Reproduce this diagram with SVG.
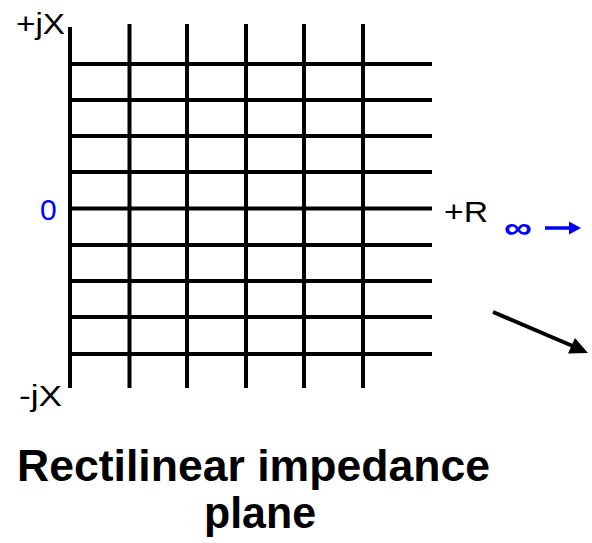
<svg xmlns="http://www.w3.org/2000/svg" width="592" height="543" viewBox="0 0 592 543">
<style>
.g{stroke:#000;stroke-width:4;fill:none}
.t{font-family:"Liberation Sans",Arial,sans-serif;font-size:30px;fill:#000}
.b{fill:#0000ff}
.h{font-family:"Liberation Sans",Arial,sans-serif;font-size:44px;font-weight:bold;fill:#000}
</style>
<rect width="592" height="543" fill="#fff"/>
<g id="grid">
<line class="g" x1="70" y1="27" x2="70" y2="388"/>
<line class="g" x1="129.5" y1="24" x2="129.5" y2="388"/>
<line class="g" x1="187" y1="24" x2="187" y2="388"/>
<line class="g" x1="246" y1="24" x2="246" y2="388"/>
<line class="g" x1="304" y1="24" x2="304" y2="388"/>
<line class="g" x1="363" y1="24" x2="363" y2="388"/>
<line class="g" x1="70" y1="64" x2="432" y2="64"/>
<line class="g" x1="70" y1="100" x2="432" y2="100"/>
<line class="g" x1="70" y1="136" x2="432" y2="136"/>
<line class="g" x1="70" y1="172" x2="432" y2="172"/>
<line class="g" x1="70" y1="208.5" x2="432" y2="208.5"/>
<line class="g" x1="70" y1="245" x2="432" y2="245"/>
<line class="g" x1="70" y1="281" x2="432" y2="281"/>
<line class="g" x1="70" y1="317" x2="432" y2="317"/>
<line class="g" x1="70" y1="354" x2="432" y2="354"/>
</g>
<g id="labels">
<text class="t" x="16" y="34" textLength="49" lengthAdjust="spacingAndGlyphs">+jX</text>
<text class="t" x="19" y="406" textLength="43" lengthAdjust="spacingAndGlyphs">-jX</text>
<text class="t" x="444" y="222" textLength="44" lengthAdjust="spacingAndGlyphs">+R</text>
<text class="t b" x="40" y="220">0</text>
<text class="t b" x="504" y="238" style="font-weight:bold" textLength="28" lengthAdjust="spacingAndGlyphs">∞</text>
</g>
<g id="connectors">
<line x1="545" y1="228" x2="572" y2="228" stroke="#0000ff" stroke-width="3.5"/>
<polygon points="581,228 569,221.5 569,234.5" fill="#0000ff"/>
<line x1="493" y1="312" x2="575" y2="347" stroke="#000" stroke-width="4"/>
<polygon points="588,353 568,353.5 575,338" fill="#000"/>
</g>
<g id="title">
<text class="h" x="17" y="481" textLength="473" lengthAdjust="spacingAndGlyphs">Rectilinear impedance</text>
<text class="h" x="204" y="528" textLength="112" lengthAdjust="spacingAndGlyphs">plane</text>
</g>
</svg>
